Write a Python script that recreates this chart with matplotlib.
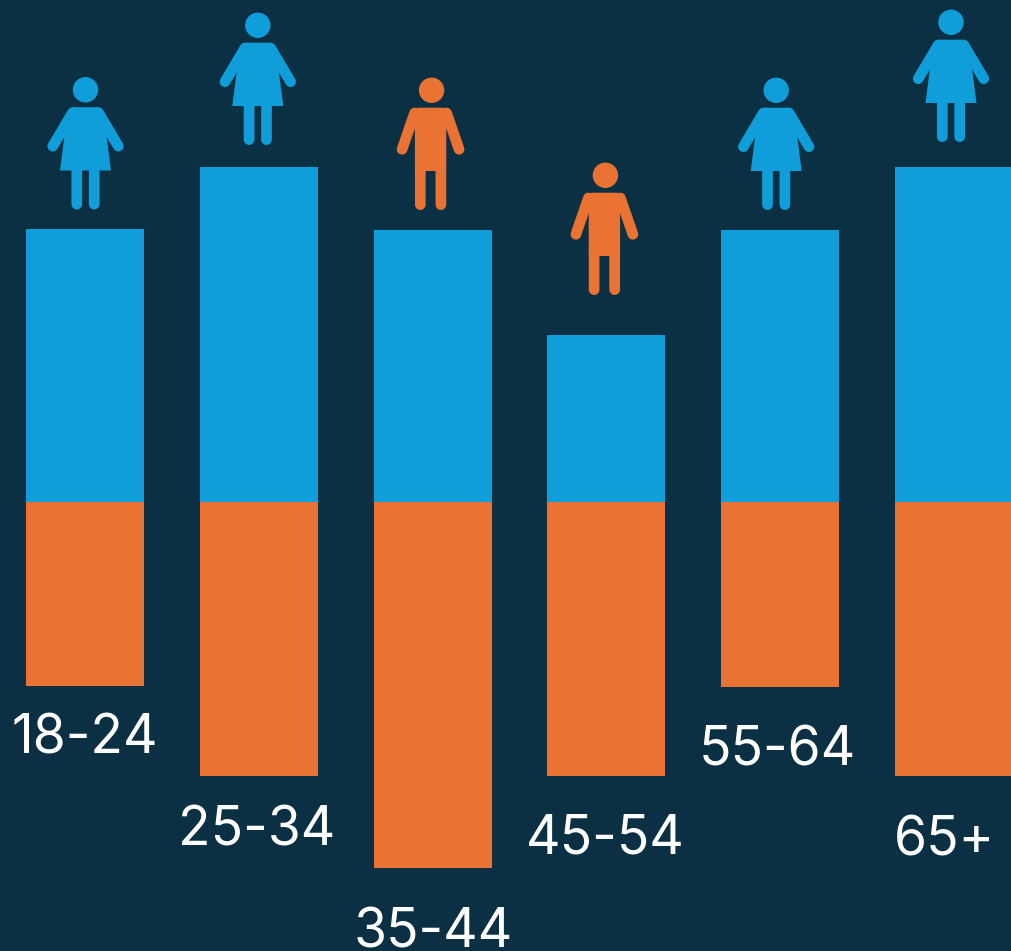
# age group bars with person icons
import numpy as np
import matplotlib
matplotlib.use('Agg')
import matplotlib.pyplot as plt
from matplotlib.patches import Circle, Polygon
from matplotlib.lines import Line2D
from matplotlib.transforms import Affine2D

plt.rcParams['font.family'] = ['Inter', 'DejaVu Sans']

age_groups = ['18-24', '25-34', '35-44', '45-54', '55-64', '65+']
blue_values = [273, 334.5, 271.5, 166.5, 271.5, 334.5]
orange_values = [184.5, 274.5, 366.5, 274.5, 185.5, 274.5]
icon_types = ['f', 'f', 'm', 'm', 'f', 'f']

BG = '#0B2F43'
BLUE = '#0F9ED9'
ORANGE = '#EA7333'
DPI = 100

x = np.arange(len(age_groups))
# gap between bar end and icon / label, in pixels
icon_gaps = [19, 22, 20, 40, 20, 25]
icon_shift = [0.5, -1, -2, -2, -4, -3]
label_gaps = [67, 70, 80, 78, 79, 80]
label_shift = [0, -2, 1, -1, -3, -10]

fig = plt.figure(figsize=(10.11, 9.51), dpi=DPI, facecolor=BG)
ax = fig.add_axes([0, 0, 1, 1], facecolor=BG)
ax.bar(x, blue_values, width=0.679, color=BLUE)
ax.bar(x, [-v for v in orange_values], width=0.679, color=ORANGE)
ax.set_xlim(-0.489, 5.328)
ax.set_ylim(-449.5, 501.5)
ax.axis('off')


def draw_person(px, py, kind, color):
    # px, py = figure pixels of the point between the feet
    tr = Affine2D().translate(px, py)
    lw = 10.7 * 72 / DPI
    head_x = 0
    if kind == 'f':
        body = [(-25.5, 39), (25.5, 39), (21, 74), (13, 102.3), (-13, 102.3), (-21, 74)]
        arms = [((-32.8, -12.8), (63.3, 97)), ((32.8, 12.8), (63.3, 97))]
        legs = [-8.7, 8.7]
    else:
        head_x = 1
        body = [(-15.7, 39), (15.7, 39), (15.7, 99), (13, 102.3), (-13, 102.3), (-15.7, 99)]
        arms = [((-28.5, -16), (60.7, 97)), ((28.5, 16), (60.7, 97))]
        legs = [-10.3, 10.3]
    fig.add_artist(Circle((head_x, 119.7), 12.7, transform=tr, color=color, lw=0))
    fig.add_artist(Polygon(body, closed=True, transform=tr, color=color, lw=0))
    for arm_x, arm_y in arms:
        fig.add_artist(Line2D(arm_x, arm_y, transform=tr, color=color, lw=lw, solid_capstyle='round'))
    for lx in legs:
        leg = Line2D([lx, lx], [39, 5.35], transform=tr, color=color, lw=lw, solid_capstyle='round')
        leg.set_snap(False)
        fig.add_artist(leg)


fig.canvas.draw()
for i in range(len(age_groups)):
    px, py = ax.transData.transform((x[i], blue_values[i]))
    c = BLUE if icon_types[i] == 'f' else ORANGE
    draw_person(px + icon_shift[i], py + icon_gaps[i], icon_types[i], c)
    ax.annotate(age_groups[i], (x[i], -orange_values[i]),
                xytext=(label_shift[i] * 72 / DPI, -label_gaps[i] * 72 / DPI),
                textcoords='offset points', ha='center', va='baseline',
                color='white', fontsize=38.5, fontweight='normal')

fig.savefig('out.png', dpi=DPI, facecolor=BG)
